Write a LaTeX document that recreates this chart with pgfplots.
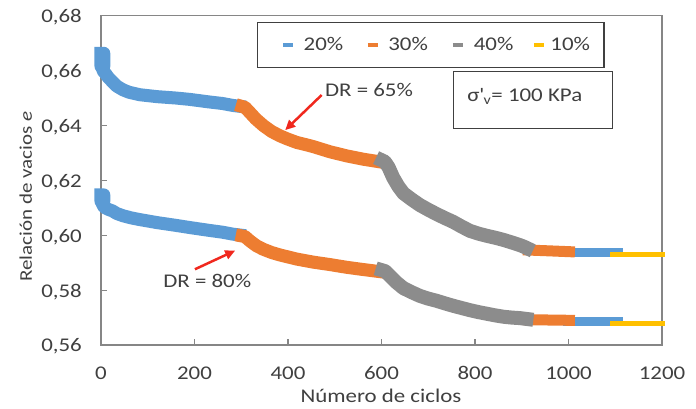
\documentclass[border=0pt]{standalone}
\usepackage{fontspec}
\setmainfont{Carlito}[FakeStretch=1.18]
\usepackage{pgfplots}
\pgfplotsset{compat=1.18}
\usetikzlibrary{arrows.meta}
\definecolor{cblue}{HTML}{5B9BD5}
\definecolor{corange}{HTML}{ED7D31}
\definecolor{cgray}{HTML}{8C8C8C}
\definecolor{cyellow}{HTML}{FFC000}
\definecolor{axgray}{HTML}{868686}
\definecolor{txt}{HTML}{404040}
\definecolor{cred}{HTML}{F0281E}
\newcommand{\fs}{\fontsize{19.4}{23}\selectfont}
\begin{document}
\begin{tikzpicture}
\begin{axis}[
  scale only axis, width=561pt, height=329.3pt,
  xmin=0, xmax=1200, ymin=0.56, ymax=0.68,
  xtick={0,200,400,600,800,1000,1200},
  ytick={0.56,0.58,0.60,0.62,0.64,0.66,0.68},
  scaled y ticks=false,
  tick align=inside, major tick length=6pt, tick pos=left,
  axis line style={axgray, line width=1.5pt},
  major tick style={axgray, line width=1.2pt},
  /pgf/number format/assume math mode=true,
  /pgf/number format/1000 sep={},
  tick label style={font=\fs, text=txt},
  yticklabel style={/pgf/number format/fixed, /pgf/number format/fixed zerofill, /pgf/number format/precision=2, /pgf/number format/use comma, anchor=base east, inner sep=0pt, xshift=-19pt, yshift=-7pt},
  xticklabel style={anchor=base, inner sep=0pt, yshift=-35pt},
  xlabel={Número de ciclos},
  ylabel={Relación de vacios \textit{e}},
  xlabel style={font=\fs, text=txt, at={(axis description cs:0.499,0)}, anchor=base, inner sep=0pt, yshift=-58pt},
  ylabel style={font=\fontsize{17.8}{21}\selectfont, text=txt, at={(axis description cs:-0.123,0.451)}, anchor=base, inner sep=0pt},
  clip=false,
  legend columns=4,
  legend style={at={(axis cs:334,0.6777)}, anchor=north west, draw=txt, line width=1.2pt,
    inner xsep=12pt, inner ysep=13pt, font=\fs, text=txt,
    /tikz/every even column/.append style={column sep=9pt}},
  legend image code/.code={\draw[#1, line width=4pt, line cap=butt] (0pt,0pt) -- (10pt,0pt); \path (-7pt,0pt) (12pt,0pt);},
]
% ---- 20% (blue)
\addplot[cblue, line width=13pt, line cap=rect, line join=round] coordinates {
(0,0.6663) (6,0.6663) (6,0.6615) (0,0.6615) (0,0.6663) (4,0.6600) (10,0.6588) (16,0.6574) (24,0.6560) (34,0.6543) (47,0.6530) (60,0.6521) (83,0.6512) (120,0.6505) (160,0.6500) (190,0.6495) (230,0.6486) (260,0.6480) (282,0.6473) (296,0.6470)
};
\addlegendentry{20\%}
\addplot[cblue, line width=13pt, line cap=rect, line join=round, forget plot] coordinates {
(0,0.6147) (6,0.6147) (6,0.6123) (0,0.6123) (0,0.6147) (4,0.6108) (10,0.6099) (16,0.6094) (24,0.6089) (34,0.6079) (47,0.6071) (65,0.6063) (83,0.6057) (120,0.6046) (160,0.6036) (190,0.6028) (230,0.6018) (260,0.6011) (282,0.6004) (296,0.6001)
};
\addplot[cblue, line width=9pt, line cap=rect, forget plot] coordinates {(997,0.5936) (1108,0.5936)};
\addplot[cblue, line width=9pt, line cap=rect, forget plot] coordinates {(997,0.5684) (1108,0.5684)};
% ---- 30% (orange)
\addplot[corange, line width=13pt, line cap=rect, line join=round] coordinates {
(302,0.6469) (308,0.6466) (318,0.6448) (331,0.6424) (347,0.6400) (365,0.6378) (383,0.6362) (400,0.6350) (419,0.6338) (436,0.6331) (454,0.6323) (490,0.6304) (526,0.6289) (561,0.6277) (598,0.6267)
};
\addlegendentry{30\%}
\addplot[corange, line width=13pt, line cap=rect, line join=round, forget plot] coordinates {
(302,0.5997) (308,0.5995) (318,0.5980) (333,0.5961) (347,0.5949) (365,0.5937) (383,0.5928) (419,0.5913) (454,0.5902) (490,0.5893) (526,0.5883) (561,0.5875) (598,0.5867)
};
\addplot[corange, line width=11pt, line cap=rect, forget plot] coordinates {(914,0.5946) (960,0.5943) (1002,0.5940)};
\addplot[corange, line width=11pt, line cap=rect, forget plot] coordinates {(914,0.5692) (960,0.5691) (1002,0.5690)};
% ---- 40% (gray)
\addplot[cgray, line width=14pt, line cap=rect, line join=round] coordinates {
(602,0.6272) (607,0.6268) (615,0.6248) (625,0.6210) (636,0.6178) (647,0.6153) (665,0.6130) (682,0.6110) (700,0.6093) (718,0.6077) (735,0.6063) (753,0.6049) (771,0.6032) (789,0.6016) (807,0.6006) (825,0.5998) (843,0.5991) (861,0.5983) (878,0.5974) (896,0.5964) (905,0.5958) (910,0.5954)
};
\addlegendentry{40\%}
\addplot[cgray, line width=14pt, line cap=rect, line join=round, forget plot] coordinates {
(602,0.5872) (608,0.5869) (618,0.5852) (632,0.5828) (647,0.5807) (665,0.5792) (682,0.5779) (700,0.5769) (718,0.5761) (735,0.5752) (753,0.5743) (771,0.5735) (789,0.5727) (807,0.5720) (825,0.5714) (843,0.5708) (861,0.5703) (878,0.5700) (896,0.5698) (910,0.5695)
};
% ---- 10% (yellow)
\addplot[cyellow, line width=5pt, line cap=rect] coordinates {(1094,0.5931) (1200,0.5931)};
\addlegendentry{10\%}
\addplot[cyellow, line width=5pt, line cap=rect, forget plot] coordinates {(1094,0.5679) (1200,0.5679)};
% ---- annotations
\node[draw=txt, line width=1.2pt, minimum width=159pt, minimum height=57pt, anchor=north west, inner sep=0pt, fill=white] at (axis cs:753,0.6598) {};
\node[anchor=base west, inner sep=0pt, text=txt, font=\fs] at (axis cs:783,0.6486) {σ\textquotesingle\textsubscript{v}= 100 KPa};
\node[anchor=base west, inner sep=0pt, text=txt, font=\fs] at (axis cs:479,0.6504) {DR = 65\%};
\node[anchor=base west, inner sep=0pt, text=txt, font=\fs] at (axis cs:133,0.5808) {DR = 80\%};
\draw[cred, line width=2.5pt, -{Triangle[length=10pt,width=9pt]}] (axis cs:472,0.6511) -- (axis cs:394,0.6383);
\draw[cred, line width=2.5pt, -{Triangle[length=10pt,width=9pt]}] (axis cs:201,0.5876) -- (axis cs:287,0.5944);
\end{axis}
\pgfresetboundingbox
\path[use as bounding box] ([xshift=-101pt,yshift=-64pt]current axis.south west) rectangle ([xshift=34pt,yshift=15.7pt]current axis.north east);
\end{tikzpicture}
\end{document}
